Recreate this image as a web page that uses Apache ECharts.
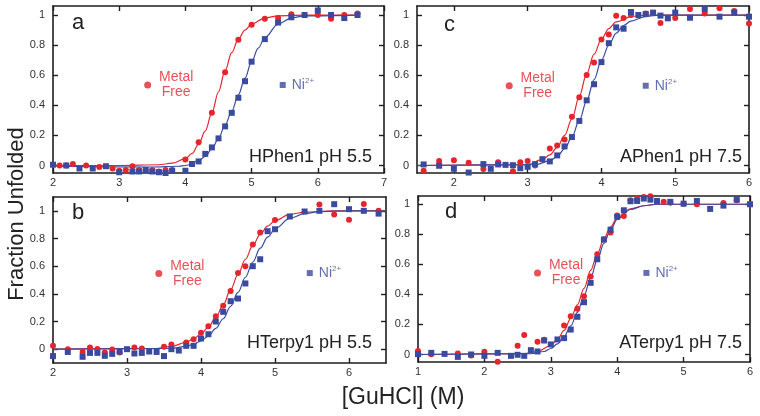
<!DOCTYPE html>
<html>
<head>
<meta charset="utf-8">
<script src="https://cdn.jsdelivr.net/npm/echarts@6/dist/echarts.min.js"></script>
<style>
  html, body { margin: 0; padding: 0; background: #fff; }
  #main { width: 760px; height: 416px; }
</style>
</head>
<body>
<div id="main"></div>
<script>
// points: [GuHCl] (M), fraction unfolded
var hPhenFree = [[2.1,0],[2.2,0],[2.3,0.01],[2.5,0],[2.7,-0.01],[2.9,-0.02],[3.0,-0.035],[3.1,-0.03],[3.2,-0.005],[3.3,-0.03],[3.4,-0.035],[3.5,-0.03],[3.6,-0.04],[3.7,-0.03],[3.8,-0.03],[4.0,0.04],[4.2,0.155],[4.4,0.35],[4.6,0.62],[4.8,0.835],[5.0,0.935],[5.2,0.975],[5.4,0.98],[5.6,1.005],[6.0,1.0],[6.2,0.975],[6.4,1.0],[6.6,1.01]];
var hPhenNi = [[2.0,0.005],[2.2,0],[2.4,-0.02],[2.6,-0.02],[2.8,-0.005],[3.0,-0.045],[3.2,-0.04],[3.3,-0.04],[3.4,-0.03],[3.5,-0.04],[3.6,-0.045],[3.7,-0.05],[3.8,-0.035],[4.0,-0.035],[4.1,0.01],[4.2,0.027],[4.3,0.077],[4.4,0.12],[4.5,0.18],[4.6,0.26],[4.7,0.35],[4.8,0.45],[4.9,0.56],[5.0,0.69],[5.2,0.84],[5.4,0.95],[5.6,0.985],[5.8,1.0],[6.0,1.03],[6.2,1.0],[6.4,0.98],[6.6,1.0]];
var hPhenFreeFit = [[2,0],[3,0],[3.6,0.005],[3.8,0.015],[4.0,0.045],[4.1,0.08],[4.2,0.14],[4.3,0.23],[4.4,0.35],[4.5,0.49],[4.6,0.63],[4.7,0.75],[4.8,0.84],[4.9,0.9],[5.0,0.94],[5.2,0.98],[5.4,0.995],[5.8,1.0],[6.6,1.0]];
var hPhenNiFit = [[2,-0.005],[3.5,-0.01],[3.9,-0.005],[4.0,0],[4.2,0.03],[4.3,0.06],[4.4,0.11],[4.5,0.18],[4.6,0.27],[4.7,0.36],[4.8,0.47],[4.9,0.58],[5.0,0.69],[5.1,0.78],[5.2,0.85],[5.4,0.94],[5.6,0.98],[5.8,0.995],[6.6,1.0]];

var hTerpyFree = [[2.0,0.024],[2.2,0],[2.4,-0.02],[2.5,0.012],[2.6,0.002],[2.7,-0.024],[2.8,-0.002],[2.9,-0.024],[3.1,0.012],[3.2,0.005],[3.5,0.017],[3.6,0.034],[3.8,0.048],[3.9,0.072],[4.0,0.118],[4.1,0.166],[4.2,0.238],[4.3,0.313],[4.4,0.42],[4.5,0.55],[4.6,0.6],[4.7,0.757],[4.8,0.843],[5.0,0.933],[5.6,1.046],[5.8,0.973],[6.0,0.935],[6.2,1.05],[6.4,1.0]];
var hTerpyNi = [[2.0,-0.05],[2.2,-0.02],[2.4,-0.055],[2.5,-0.027],[2.6,-0.027],[2.7,-0.048],[2.8,-0.034],[2.9,-0.017],[3.0,0],[3.1,-0.031],[3.2,-0.027],[3.3,-0.017],[3.4,-0.02],[3.5,-0.05],[3.6,0],[3.7,-0.01],[3.8,0.024],[3.9,0.024],[4.0,0.077],[4.1,0.108],[4.2,0.2],[4.3,0.27],[4.4,0.347],[4.5,0.366],[4.6,0.475],[4.7,0.6],[4.8,0.65],[4.9,0.853],[5.0,0.867],[5.2,0.959],[5.4,0.995],[5.6,1.0],[5.8,1.048],[6.0,1.012],[6.2,1.0],[6.4,0.98]];
var hTerpyFreeFit = [[2,0],[3.4,0.005],[3.6,0.02],[3.8,0.05],[3.9,0.075],[4.0,0.11],[4.1,0.16],[4.2,0.23],[4.3,0.32],[4.4,0.43],[4.5,0.54],[4.6,0.65],[4.7,0.75],[4.8,0.83],[4.9,0.89],[5.0,0.93],[5.2,0.975],[5.4,0.99],[5.8,1.0],[6.5,1.0]];
var hTerpyNiFit = [[2,0],[3.6,0.005],[3.8,0.02],[3.9,0.035],[4.0,0.06],[4.1,0.095],[4.2,0.15],[4.3,0.22],[4.4,0.31],[4.5,0.41],[4.6,0.52],[4.7,0.63],[4.8,0.73],[4.9,0.81],[5.0,0.87],[5.2,0.945],[5.4,0.98],[5.6,0.995],[6.0,1.0],[6.5,1.0]];

var aPhenFree = [[1.59,-0.035],[1.8,0.03],[2.0,0.035],[2.2,0.018],[2.4,-0.024],[2.5,-0.055],[2.6,0.022],[2.8,-0.038],[2.9,0.022],[3.0,0.029],[3.1,0],[3.3,0.113],[3.4,0.133],[3.5,0.173],[3.6,0.324],[3.7,0.453],[3.8,0.602],[3.9,0.684],[4.0,0.838],[4.1,0.871],[4.2,0.996],[4.3,0.98],[4.4,1.0],[4.6,1.01],[4.8,0.947],[5.0,0.98],[5.2,1.04],[5.4,1.01],[5.6,1.045],[5.8,1.027],[6.0,0.944]];
var aPhenNi = [[1.59,0.007],[1.8,-0.002],[2.0,-0.022],[2.2,-0.047],[2.4,0.009],[2.5,-0.022],[2.6,0.007],[2.7,0.004],[2.8,0.002],[2.9,-0.018],[3.0,-0.009],[3.1,0.009],[3.2,0.042],[3.3,0.027],[3.4,0.067],[3.5,0.127],[3.6,0.189],[3.7,0.296],[3.8,0.433],[3.9,0.54],[4.0,0.687],[4.1,0.813],[4.2,0.918],[4.3,0.909],[4.4,1.02],[4.5,1.0],[4.6,1.007],[4.7,1.016],[4.8,0.996],[4.9,0.978],[5.0,1.016],[5.2,0.982],[5.4,1.04],[5.6,0.989],[5.8,1.016],[6.0,0.989]];
var aPhenFreeFit = [[1.5,0],[3.0,0.005],[3.2,0.04],[3.3,0.07],[3.4,0.12],[3.5,0.2],[3.6,0.31],[3.7,0.46],[3.8,0.61],[3.9,0.74],[4.0,0.84],[4.1,0.91],[4.2,0.955],[4.4,0.99],[4.6,1.0],[6.0,1.0]];
var aPhenNiFit = [[1.5,0],[3.1,0.005],[3.3,0.03],[3.4,0.06],[3.5,0.11],[3.6,0.19],[3.7,0.3],[3.8,0.43],[3.9,0.57],[4.0,0.7],[4.1,0.8],[4.2,0.88],[4.3,0.93],[4.4,0.96],[4.6,0.99],[4.8,1.0],[6.0,1.0]];

var aTerpyFree = [[1.0,0.024],[1.2,0.002],[1.6,0.007],[1.8,-0.007],[2.0,0.018],[2.2,-0.049],[2.5,0.058],[2.6,0.129],[2.8,0.084],[2.9,0.098],[3.2,0.193],[3.3,0.255],[3.4,0.304],[3.5,0.388],[3.6,0.519],[3.7,0.667],[3.8,0.767],[3.9,0.812],[4.0,0.925],[4.1,0.922],[4.2,1.027],[4.3,1.037],[4.4,1.049],[4.5,1.053],[4.7,1.016],[4.8,1.01],[5.0,1.004],[5.2,1.0],[5.6,1.009],[5.8,1.027],[6.0,1.0]];
var aTerpyNi = [[1.0,0.002],[1.2,0.011],[1.4,0.004],[1.6,-0.016],[1.8,0],[2.0,-0.009],[2.2,0.011],[2.4,-0.009],[2.5,-0.002],[2.6,-0.009],[2.7,0.029],[2.8,0.02],[2.9,0.093],[3.0,0.067],[3.1,0.1],[3.2,0.109],[3.3,0.166],[3.4,0.251],[3.5,0.348],[3.6,0.477],[3.7,0.634],[3.8,0.765],[3.9,0.831],[4.0,0.916],[4.1,0.96],[4.2,1.02],[4.3,1.022],[4.4,1.038],[4.5,1.031],[4.6,1.022],[4.8,1.016],[5.0,1.004],[5.2,1.022],[5.4,0.969],[5.6,0.991],[5.8,1.031],[6.0,1.0]];
var aTerpyFreeFit = [[1,0],[2.6,0.005],[2.8,0.02],[3.0,0.06],[3.1,0.1],[3.2,0.16],[3.3,0.24],[3.4,0.33],[3.5,0.44],[3.6,0.56],[3.7,0.67],[3.8,0.77],[3.9,0.85],[4.0,0.91],[4.2,0.97],[4.4,0.99],[4.6,1.0],[6,1.0]];
var aTerpyNiFit = [[1,0],[2.7,0.005],[2.9,0.02],[3.0,0.04],[3.1,0.07],[3.2,0.12],[3.3,0.19],[3.4,0.28],[3.5,0.39],[3.6,0.51],[3.7,0.63],[3.8,0.74],[3.9,0.83],[4.0,0.9],[4.2,0.965],[4.4,0.99],[4.6,1.0],[6,1.0]];

var yTicks = [0, 0.2, 0.4, 0.6, 0.8, 1];
var xTicksA = [2, 3, 4, 5, 6, 7];
var xTicksB = [2, 3, 4, 5, 6];
var xTicksC = [2, 3, 4, 5, 6];
var xTicksD = [1, 2, 3, 4, 5, 6];

var RED = '#e4252d';
var BLUE = '#3a4b9f';
var FONT = '"Liberation Sans", Arial, Helvetica, sans-serif';

var panels = [
  { letter: 'a', name: 'HPhen1 pH 5.5', grid: {left: 53, top: 6, width: 331, height: 167},
    xMin: 2, xMax: 7, yMin: -0.05, yMax: 1.06, xTicks: xTicksA,
    free: hPhenFree, ni: hPhenNi, freeFit: hPhenFreeFit, niFit: hPhenNiFit,
    keyFree: [3.43, 0.535], keyNi: [5.47, 0.535], letterPos: [72, 12], namePos: [388, 148] },
  { letter: 'b', name: 'HTerpy1 pH 5.5', grid: {left: 53, top: 197, width: 333, height: 166},
    xMin: 2, xMax: 6.5, yMin: -0.1, yMax: 1.1, xTicks: xTicksB,
    free: hTerpyFree, ni: hTerpyNi, freeFit: hTerpyFreeFit, niFit: hTerpyNiFit,
    keyFree: [3.43, 0.547], keyNi: [5.47, 0.55], letterPos: [72, 202], namePos: [388, 334] },
  { letter: 'c', name: 'APhen1 pH 7.5', grid: {left: 417, top: 6, width: 332, height: 167},
    xMin: 1.5, xMax: 6, yMin: -0.05, yMax: 1.06, xTicks: xTicksC,
    free: aPhenFree, ni: aPhenNi, freeFit: aPhenFreeFit, niFit: aPhenNiFit,
    keyFree: [2.75, 0.53], keyNi: [4.6, 0.53], letterPos: [444, 14], namePos: [18, 148] },
  { letter: 'd', name: 'ATerpy1 pH 7.5', grid: {left: 418, top: 196, width: 332, height: 166},
    xMin: 1, xMax: 6, yMin: -0.05, yMax: 1.055, xTicks: xTicksD,
    free: aTerpyFree, ni: aTerpyNi, freeFit: aTerpyFreeFit, niFit: aTerpyNiFit,
    keyFree: [2.8, 0.543], keyNi: [4.44, 0.543], letterPos: [445, 201], namePos: [18, 334] }
];

var frame = { show: true, onZero: false, lineStyle: { color: '#1e1e1e', width: 1.6 } };
var option = { backgroundColor: '#ffffff', animation: false,
  grid: [], xAxis: [], yAxis: [], series: [], title: [], graphic: [] };

panels.forEach(function (p, i) {
  option.grid.push(p.grid);
  ['bottom', 'top'].forEach(function (pos) {
    option.xAxis.push({ gridIndex: i, type: 'value', position: pos, min: p.xMin, max: p.xMax,
      axisLine: frame, splitLine: { show: false },
      axisTick: { inside: true, length: 5, customValues: p.xTicks, lineStyle: { color: '#1e1e1e', width: 1.4 } },
      axisLabel: { show: pos === 'bottom', customValues: p.xTicks, margin: 4, fontSize: 11, color: '#333', fontFamily: FONT } });
  });
  ['left', 'right'].forEach(function (pos) {
    option.yAxis.push({ gridIndex: i, type: 'value', position: pos, min: p.yMin, max: p.yMax,
      axisLine: frame, splitLine: { show: false },
      axisTick: { inside: true, length: 5, customValues: yTicks, lineStyle: { color: '#1e1e1e', width: 1.4 } },
      axisLabel: { show: pos === 'left', customValues: yTicks, margin: 8, fontSize: 11, color: '#333', fontFamily: FONT } });
  });
  var xi = 2 * i, yi = 2 * i;
  option.series.push(
    { type: 'line', xAxisIndex: xi, yAxisIndex: yi, data: p.freeFit, showSymbol: false, smooth: 0.35, smoothMonotone: 'x',
      lineStyle: { color: RED, width: 1.2 }, z: 2, silent: true },
    { type: 'line', xAxisIndex: xi, yAxisIndex: yi, data: p.niFit, showSymbol: false, smooth: 0.35, smoothMonotone: 'x',
      lineStyle: { color: BLUE, width: 1.2 }, z: 2, silent: true },
    { type: 'scatter', xAxisIndex: xi, yAxisIndex: yi, data: p.free, symbol: 'circle', symbolSize: 6,
      itemStyle: { color: RED, opacity: 1 }, z: 3 },
    { type: 'scatter', xAxisIndex: xi, yAxisIndex: yi, data: p.ni, symbol: 'rect', symbolSize: 6,
      itemStyle: { color: BLUE, opacity: 1 }, z: 4 },
    { type: 'scatter', xAxisIndex: xi, yAxisIndex: yi, data: [p.keyFree], symbol: 'circle', symbolSize: 7,
      itemStyle: { color: RED }, z: 5,
      label: { show: true, position: 'right', distance: 0, align: 'center', offset: [25, 0],
        formatter: 'Metal\nFree', color: RED, fontSize: 14, lineHeight: 15, fontFamily: FONT } },
    { type: 'scatter', xAxisIndex: xi, yAxisIndex: yi, data: [p.keyNi], symbol: 'rect', symbolSize: 6,
      itemStyle: { color: BLUE }, z: 5,
      label: { show: true, position: 'right', distance: 6, formatter: '{n|Ni}{s|2+}',
        rich: { n: { fontSize: 14, color: BLUE, fontFamily: FONT },
                s: { fontSize: 8, color: BLUE, fontFamily: FONT, verticalAlign: 'top', padding: [0, 0, 8, 0] } } } }
  );
  option.title.push(
    { text: p.letter, left: p.letterPos[0], top: p.letterPos[1], padding: 0,
      textStyle: { fontSize: 22, fontWeight: 'normal', color: '#222', fontFamily: FONT } },
    { text: p.name, right: p.namePos[0], top: p.namePos[1], padding: 0,
      textStyle: { fontSize: 18, fontWeight: 'normal', color: '#222', fontFamily: FONT } }
  );
});

option.graphic.push(
  { type: 'text', x: 17, y: 214, rotation: Math.PI / 2,
    style: { text: 'Fraction Unfolded', font: '22px ' + FONT, fill: '#222', align: 'center', verticalAlign: 'middle' } },
  { type: 'text', x: 403, y: 398,
    style: { text: '[GuHCl] (M)', font: '23px ' + FONT, fill: '#222', align: 'center', verticalAlign: 'middle' } }
);

var myChart = echarts.init(document.getElementById('main'));
myChart.setOption(option);
</script>
</body>
</html>
